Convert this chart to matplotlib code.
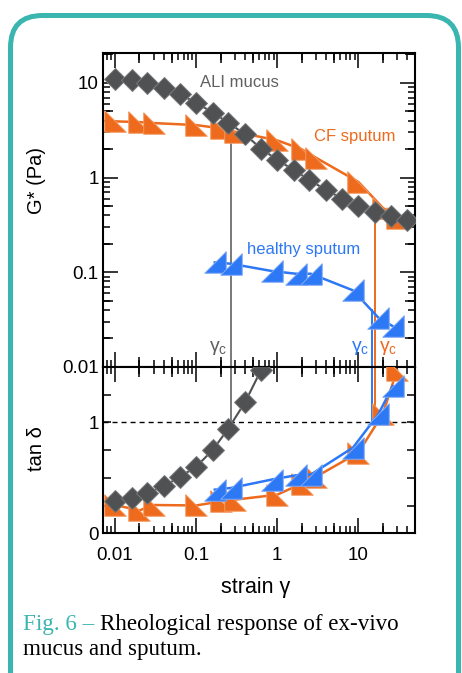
import numpy as np
import matplotlib.pyplot as plt
import matplotlib.ticker as mticker
from matplotlib.patches import FancyBboxPatch
from matplotlib.transforms import IdentityTransform

plt.rcParams['font.family'] = ['Liberation Sans', 'DejaVu Sans']

# ALI mucus (diamonds)
ali_strain = [0.01, 0.016, 0.025, 0.04, 0.063, 0.1, 0.16, 0.25, 0.4, 0.63,
              1.0, 1.6, 2.5, 4.0, 6.3, 10, 16, 25, 40]
ali_G = [10.9, 10.8, 10.0, 8.88, 7.57, 6.17, 4.85, 3.79, 2.86, 2.02,
         1.54, 1.20, 0.94, 0.74, 0.60, 0.50, 0.435, 0.39, 0.356]
ali_tan = [0.287, 0.318, 0.364, 0.424, 0.509, 0.60, 0.751, 0.945, 1.18, 1.47]

# CF sputum (orange)
cf_strain = [0.01, 0.02, 0.03, 0.1, 0.2, 0.3, 1, 2, 3, 10, 20, 30]
cf_G = [3.92, 3.85, 3.76, 3.58, 3.31, 3.05, 2.47, 1.99, 1.62, 0.90, 0.48, 0.376]
cf_tan = [0.256, 0.206, 0.255, 0.251, 0.287, 0.303, 0.348, 0.448, 0.509, 0.727, 1.075, 1.47]

# healthy sputum (blue)
hs_strain = [0.17, 0.27, 0.86, 1.7, 2.6, 8.6, 17.7, 26.5]
hs_G = [0.127, 0.123, 0.103, 0.0965, 0.0965, 0.0644, 0.0331, 0.027]
hs_tan = [0.394, 0.409, 0.485, 0.523, 0.530, 0.773, 1.075, 1.327]

# critical strains
gc_ali, gc_cf, gc_hs = 0.27, 16, 14.6

gray = '#4f5153'
orange = '#EE6A1C'
blue = '#2D78F4'
teal = '#3BB5AF'

tri_r = [(-1, 1), (-1, -1), (1, -1), (-1, 1)]
tri_l = [(1, 1), (1, -1), (-1, -1), (1, 1)]


def mid_ticks(ax, xvals, yvals, length=7.5):
    # IGOR-style medium ticks at 2 and 5
    kw = dict(ls='none', color='black', ms=length, mew=1.1, clip_on=False)
    if xvals:
        tr = ax.get_xaxis_transform()
        ax.plot(xvals, [0] * len(xvals), marker=2, transform=tr, **kw)
        ax.plot(xvals, [1] * len(xvals), marker=3, transform=tr, **kw)
    if yvals:
        tr = ax.get_yaxis_transform()
        ax.plot([0] * len(yvals), yvals, marker=1, transform=tr, **kw)
        ax.plot([1] * len(yvals), yvals, marker=0, transform=tr, **kw)


fig = plt.figure(figsize=(4.62, 6.73), dpi=100)
ax1 = fig.add_axes([0.2223, 0.4547, 0.676, 0.4661])
ax2 = fig.add_axes([0.2223, 0.2076, 0.676, 0.2471])

# top panel: G*
ax1.plot([gc_ali, gc_ali], [0.01, 2.6], color='#555555', lw=1.1, zorder=1)
ax1.plot([gc_cf, gc_cf], [0.01, 0.45], color=orange, lw=1.4, zorder=1)
ax1.plot([gc_hs, gc_hs], [0.01, 0.04], color=blue, lw=1.4, zorder=1)
ax1.plot(cf_strain, cf_G, color=orange, lw=1.8, marker=tri_r, ms=15.5,
         mec='#F59A60', mew=0.7, zorder=3)
ax1.plot(hs_strain, hs_G, color=blue, lw=1.8, marker=tri_l, ms=15.5,
         mec='#7FAAF8', mew=0.7, zorder=3)
ax1.plot(ali_strain, ali_G, color=gray, lw=1.5, marker='D', ms=11.5,
         mec='#77797b', mew=0.7, zorder=4)

ax1.text(0.34, 10.0, 'ALI mucus', color='#606060', fontsize=12, ha='center', va='center')
ax1.text(9.1, 2.68, 'CF sputum', color=orange, fontsize=12, ha='center', va='center')
ax1.text(2.14, 0.172, 'healthy sputum', color=blue, fontsize=12, ha='center', va='center')
ax1.text(0.185, 0.0158, 'γ$_\\mathregular{c}$', color='#606060', fontsize=14, ha='center', va='center')
ax1.text(10.5, 0.0158, 'γ$_\\mathregular{c}$', color=blue, fontsize=14, ha='center', va='center')
ax1.text(23.3, 0.0158, 'γ$_\\mathregular{c}$', color=orange, fontsize=14, ha='center', va='center')

ax1.set_xscale('log')
ax1.set_yscale('log')
ax1.set_xlim(0.00705, 50)
ax1.set_ylim(0.01, 20.5)
ax1.yaxis.set_major_locator(mticker.FixedLocator([0.01, 0.1, 1, 10]))
ax1.yaxis.set_major_formatter(mticker.FixedFormatter(['0.01', '0.1', '1', '10']))
ax1.tick_params(labelbottom=False)

# bottom panel: tan delta
ax2.axhline(1, color='black', lw=1, dashes=(3.6, 2.9), zorder=1)
ax2.plot([gc_ali, gc_ali], [1, 1.5], color='#555555', lw=1.1, zorder=1)
ax2.plot([gc_cf, gc_cf], [1.0, 1.5], color=orange, lw=1.4, zorder=1)
ax2.plot([gc_hs, gc_hs], [1.0, 1.5], color=blue, lw=1.4, zorder=1)
ax2.plot(cf_strain, cf_tan, color=orange, lw=1.8, marker=tri_r, ms=15.5,
         mec='#F59A60', mew=0.7, zorder=3)
ax2.plot(hs_strain, hs_tan, color=blue, lw=1.8, marker=tri_l, ms=15.5,
         mec='#7FAAF8', mew=0.7, zorder=3)
ax2.plot(ali_strain[:len(ali_tan)], ali_tan, color=gray, lw=1.5, marker='D', ms=11.5,
         mec='#77797b', mew=0.7, zorder=4)

ax2.set_xscale('log')
ax2.set_xlim(0.00705, 50)
ax2.set_ylim(0, 1.5)
ax2.yaxis.set_major_locator(mticker.FixedLocator([0, 0.25, 0.5, 0.75, 1, 1.25, 1.5]))
ax2.yaxis.set_major_formatter(mticker.FuncFormatter(
    lambda v, p: {0: '0', 1: '1'}.get(v, '')))

for ax in (ax1, ax2):
    ax.xaxis.set_major_locator(mticker.FixedLocator([0.01, 0.1, 1, 10]))
    ax.xaxis.set_major_formatter(mticker.FixedFormatter(['0.01', '0.1', '1', '10']))
    ax.xaxis.set_minor_locator(mticker.LogLocator(subs=np.arange(2, 10), numticks=20))
    ax.xaxis.set_minor_formatter(mticker.NullFormatter())
    for s in ax.spines.values():
        s.set_linewidth(1.5)
    ax.tick_params(which='both', direction='in', top=True, right=True,
                   width=1.1, labelsize=13.5)
    ax.tick_params(which='major', length=11, pad=3)
    ax.tick_params(which='minor', length=5)
ax1.yaxis.set_minor_locator(mticker.LogLocator(subs=np.arange(2, 10), numticks=20))
ax1.yaxis.set_minor_formatter(mticker.NullFormatter())
ax2.tick_params(axis='y', which='major', length=6)
ax2.tick_params(axis='x', which='major', pad=10)

mids = [0.02, 0.05, 0.2, 0.5, 2, 5, 20]
mid_ticks(ax1, mids, [0.02, 0.05, 0.2, 0.5, 2, 5, 20])
mid_ticks(ax2, mids, [])

fig.text(37 / 462, 1 - 181 / 673, 'G* (Pa)', rotation=90, fontsize=14.5,
         ha='center', va='center')
fig.text(37 / 462, 1 - 449 / 673, 'tan δ', rotation=90, fontsize=14.5,
         ha='center', va='center')
fig.text(256 / 462, 1 - 588 / 673, 'strain γ', fontsize=15.5, ha='center', va='center')

# caption
t1 = fig.text(22.7 / 462, 1 - 630 / 673, 'Fig. 6 – ', color=teal,
              family='Liberation Serif', fontsize=16.6, va='baseline')
fig.canvas.draw()
bb = t1.get_window_extent()
fig.text(bb.x1 / 462, 1 - 630 / 673, 'Rheological response of ex-vivo',
         family='Liberation Serif', fontsize=16.6, va='baseline')
fig.text(22.7 / 462, 1 - 655 / 673, 'mucus and sputum.',
         family='Liberation Serif', fontsize=16.6, va='baseline')

# rounded frame
frame = FancyBboxPatch((10.5, -40), 448, 673 - 15.5 + 40,
                       boxstyle='round,pad=0,rounding_size=32',
                       fill=False, ec=teal, lw=3.6, transform=IdentityTransform())
fig.add_artist(frame)

fig.savefig('out.png', dpi=100)
